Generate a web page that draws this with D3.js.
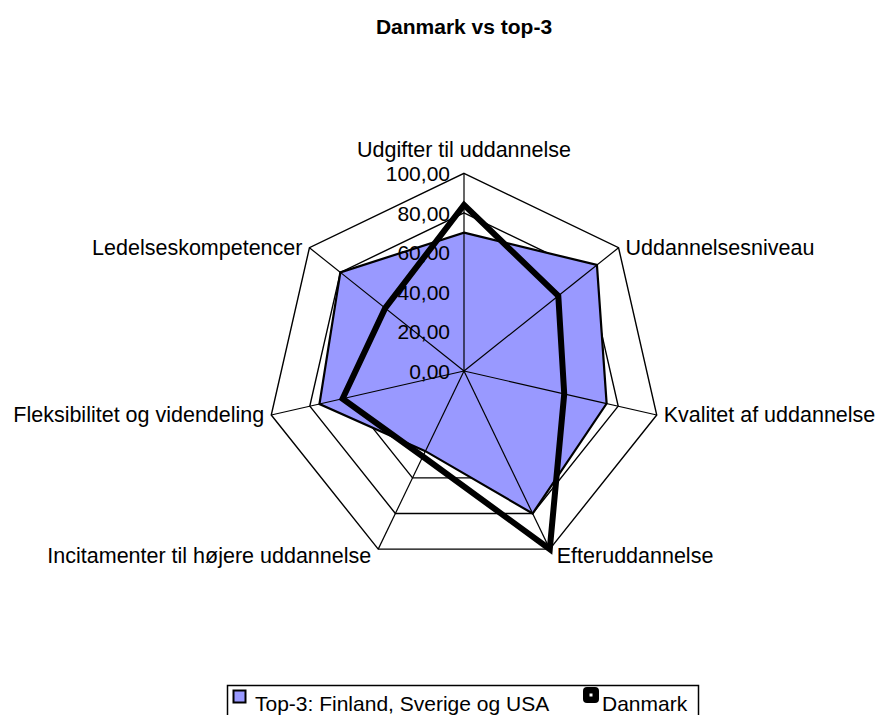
<!DOCTYPE html>
<html>
<head>
<meta charset="utf-8">
<script src="https://cdn.jsdelivr.net/npm/d3@7"></script>
<style>
  body { margin: 0; background: #fff; }
  text { font-family: "Liberation Sans", Arial, sans-serif; fill: #000; }
</style>
</head>
<body>
<div id="chart"></div>
<script>
// Data
const categories = [
  "Udgifter til uddannelse",
  "Uddannelsesniveau",
  "Kvalitet af uddannelse",
  "Efteruddannelse",
  "Incitamenter til højere uddannelse",
  "Fleksibilitet og videndeling",
  "Ledelseskompetencer"
];
const top3Values    = [70, 86, 74, 80, 45, 75, 80];
const danmarkValues = [84, 61, 52, 100, 48, 63, 51];
const tickValues    = [0, 20, 40, 60, 80, 100];
const tickLabels    = ["0,00", "20,00", "40,00", "60,00", "80,00", "100,00"];
const seriesNames   = ["Top-3: Finland, Sverige og USA", "Danmark"];

const config = {
  width  : 878,
  height : 715,
  cx     : 464,
  cy     : 371,
  radius : 197.7,
  fill   : "#9999FF"
};

const svg = d3.select("#chart")
  .append("svg")
    .attr("width", config.width)
    .attr("height", config.height);

const r = d3.scaleLinear().domain([0, 100]).range([0, config.radius]);
const angle = i => i * 2 * Math.PI / categories.length;
const px = (i, v) => config.cx + r(v) * Math.sin(angle(i));
const py = (i, v) => config.cy - r(v) * Math.cos(angle(i));

const line = d3.line().curve(d3.curveLinearClosed);

// Title
svg.append("text")
  .attr("x", config.cx)
  .attr("y", 34)
  .attr("text-anchor", "middle")
  .style("font-size", "21px")
  .style("font-weight", "bold")
  .text("Danmark vs top-3");

const grid = svg.append("g");

// rings
grid.selectAll(".ring")
  .data(tickValues.filter(d => d > 0))
  .enter()
  .append("path")
    .attr("class", "ring")
    .attr("d", v => line(categories.map((c, i) => [px(i, v), py(i, v)])))
    .attr("fill", "none")
    .attr("stroke", "#000")
    .attr("stroke-width", 1.4);

// spokes
grid.selectAll(".spoke")
  .data(categories)
  .enter()
  .append("line")
    .attr("class", "spoke")
    .attr("x1", config.cx).attr("y1", config.cy)
    .attr("x2", (d, i) => px(i, 100))
    .attr("y2", (d, i) => py(i, 100))
    .attr("stroke", "#000")
    .attr("stroke-width", 1.2);

// Top-3 area
svg.append("path")
  .attr("d", line(top3Values.map((v, i) => [px(i, v), py(i, v)])))
  .attr("fill", config.fill)
  .attr("stroke", "#000")
  .attr("stroke-width", 2.2)
  .attr("stroke-linejoin", "miter");

// spokes visible again over the area
svg.append("g").selectAll("line")
  .data(categories)
  .enter()
  .append("line")
    .attr("x1", config.cx).attr("y1", config.cy)
    .attr("x2", (d, i) => px(i, top3Values[i]))
    .attr("y2", (d, i) => py(i, top3Values[i]))
    .attr("stroke", "#000")
    .attr("stroke-width", 1.2);

// Danmark line
svg.append("path")
  .attr("d", line(danmarkValues.map((v, i) => [px(i, v), py(i, v)])))
  .attr("fill", "none")
  .attr("stroke", "#000")
  .attr("stroke-width", 6)
  .attr("stroke-linejoin", "miter");

// tick labels
svg.selectAll(".tick")
  .data(tickValues)
  .enter()
  .append("text")
    .attr("class", "tick")
    .attr("x", 450)
    .attr("y", v => config.cy - r(v) + 8)
    .attr("text-anchor", "end")
    .style("font-size", "21px")
    .text((v, i) => tickLabels[i]);

// category labels
svg.selectAll(".cat")
  .data(categories)
  .enter()
  .append("text")
    .attr("class", "cat")
    .attr("x", (d, i) => {
      const s = Math.sin(angle(i));
      return px(i, 100) + (Math.abs(s) < 0.1 ? 0 : (s > 0 ? 7 : -7));
    })
    .attr("y", (d, i) => {
      const c = Math.cos(angle(i));
      if (c > 0.9) return py(i, 100) - 16;
      if (c < -0.8) return py(i, 100) + 14;
      return py(i, 100) + 7;
    })
    .attr("text-anchor", (d, i) => {
      const s = Math.sin(angle(i));
      return Math.abs(s) < 0.1 ? "middle" : (s > 0 ? "start" : "end");
    })
    .style("font-size", "21.5px")
    .text(d => d);

// Legend
const legend = svg.append("g");
legend.append("rect")
  .attr("x", 227.5).attr("y", 685.5)
  .attr("width", 471).attr("height", 40)
  .attr("fill", "#fff")
  .attr("stroke", "#000")
  .attr("stroke-width", 1.5);

legend.append("rect")
  .attr("x", 233.5).attr("y", 690.5)
  .attr("width", 12).attr("height", 12)
  .attr("fill", config.fill)
  .attr("stroke", "#000")
  .attr("stroke-width", 2);
legend.append("text")
  .attr("x", 255).attr("y", 711)
  .style("font-size", "21px")
  .text(seriesNames[0]);

legend.append("rect")
  .attr("x", 583).attr("y", 687)
  .attr("width", 16).attr("height", 16)
  .attr("rx", 4)
  .attr("fill", "#000");
legend.append("rect")
  .attr("x", 589.5).attr("y", 693.5)
  .attr("width", 3).attr("height", 3)
  .attr("fill", "#fff");
legend.append("text")
  .attr("x", 602).attr("y", 711)
  .style("font-size", "21px")
  .text(seriesNames[1]);
</script>
</body>
</html>
